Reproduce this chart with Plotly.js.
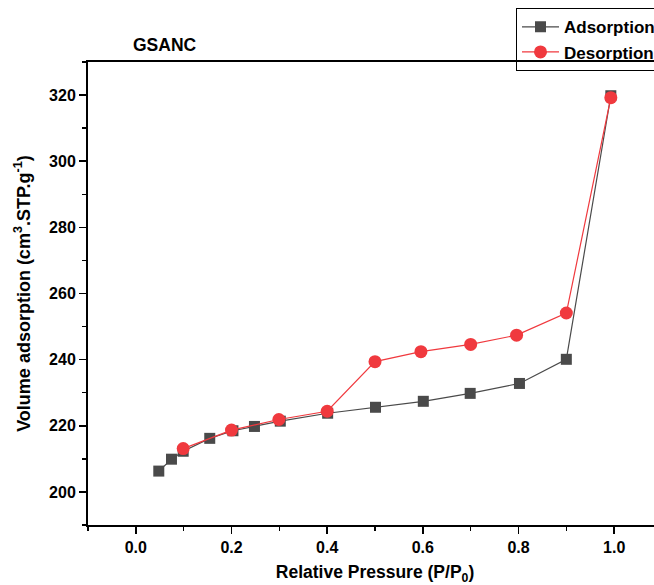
<!DOCTYPE html>
<html>
<head>
<meta charset="utf-8">
<script src="https://cdn.plot.ly/plotly-3.0.1.min.js"></script>
<style>
html,body{margin:0;padding:0;overflow:hidden;background:#fff;}
#chart{width:700px;height:585px;}
</style>
</head>
<body>
<div id="chart"></div>
<script>
const adsX = [0.048, 0.0745, 0.099, 0.1545, 0.203, 0.248, 0.302, 0.401, 0.501, 0.601, 0.699, 0.802, 0.900, 0.993];
const adsY = [206.3, 209.9, 212.3, 216.2, 218.5, 219.8, 221.4, 223.8, 225.6, 227.4, 229.8, 232.8, 240.1, 319.8];
const desX = [0.099, 0.200, 0.299, 0.400, 0.500, 0.596, 0.700, 0.796, 0.900, 0.993];
const desY = [213.1, 218.7, 221.9, 224.4, 239.4, 242.4, 244.6, 247.4, 254.1, 319.2];
const seriesNames = ['Adsorption', 'Desorption'];
const chartTitle = 'GSANC';
const xTitle = 'Relative Pressure (P/P<sub>0</sub>)';
const yTitle = 'Volume adsorption (cm<sup>3</sup>.STP.g<sup>-1</sup>)';

const FONT = 'Arial, "Liberation Sans", sans-serif';

const traces = [
  {
    x: adsX, y: adsY, name: seriesNames[0], type: 'scatter', mode: 'lines+markers',
    line: {color: '#4a4a4a', width: 1.2},
    marker: {symbol: 'square', size: 11, color: '#4a4a4a'}
  },
  {
    x: desX, y: desY, name: seriesNames[1], type: 'scatter', mode: 'lines+markers',
    line: {color: '#f0393e', width: 1.2},
    marker: {symbol: 'circle', size: 13, color: '#f0393e'}
  }
];

const tickFont = {family: FONT, size: 16, color: '#000', weight: 'bold'};
const xTitleFont = {family: FONT, size: 17.5, color: '#000', weight: 'bold'};
const yTitleFont = {family: FONT, size: 18, color: '#000', weight: 'bold'};

const axisCommon = {
  showgrid: false, zeroline: false,
  showline: true, linecolor: '#000', linewidth: 2,
  ticks: 'outside', ticklen: 7, tickwidth: 1.5, tickcolor: '#000',
  tickfont: tickFont
};

const layout = {
  width: 700, height: 585,
  margin: {l: 88, r: 38, t: 62, b: 60, autoexpand: false},
  paper_bgcolor: '#fff', plot_bgcolor: '#fff',
  font: {family: FONT, color: '#000'},
  showlegend: true,
  legend: {
    x: (516 - 88) / 574, y: (524.7 - 8) / 463, xanchor: 'left', yanchor: 'top',
    bgcolor: 'rgba(255,255,255,0)', bordercolor: '#000', borderwidth: 1,
    font: {family: FONT, size: 17, color: '#000', weight: 'bold'},
    itemwidth: 37, tracegroupgap: 0
  },
  xaxis: Object.assign({}, axisCommon, {
    mirror: true,
    range: [-0.1, 1.1], dtick: 0.2, tick0: 0, tickformat: '.1f',
    minor: {dtick: 0.1, ticks: 'outside', ticklen: 4, tickwidth: 1.5, tickcolor: '#000'},
    title: {text: xTitle, font: xTitleFont, standoff: 11}
  }),
  yaxis: Object.assign({}, axisCommon, {
    mirror: false,
    range: [190, 330], dtick: 20, tick0: 200,
    minor: {dtick: 10, ticks: 'outside', ticklen: 4, tickwidth: 1.5, tickcolor: '#000'},
    title: {text: yTitle, font: yTitleFont, standoff: 14}
  }),
  annotations: [{
    text: chartTitle, xref: 'paper', yref: 'paper',
    x: (165 - 88) / 574, y: (524.7 - 45) / 463, xanchor: 'center', yanchor: 'middle',
    showarrow: false, font: xTitleFont
  }]
};

Plotly.newPlot('chart', traces, layout, {displayModeBar: false, staticPlot: true});
</script>
</body>
</html>
